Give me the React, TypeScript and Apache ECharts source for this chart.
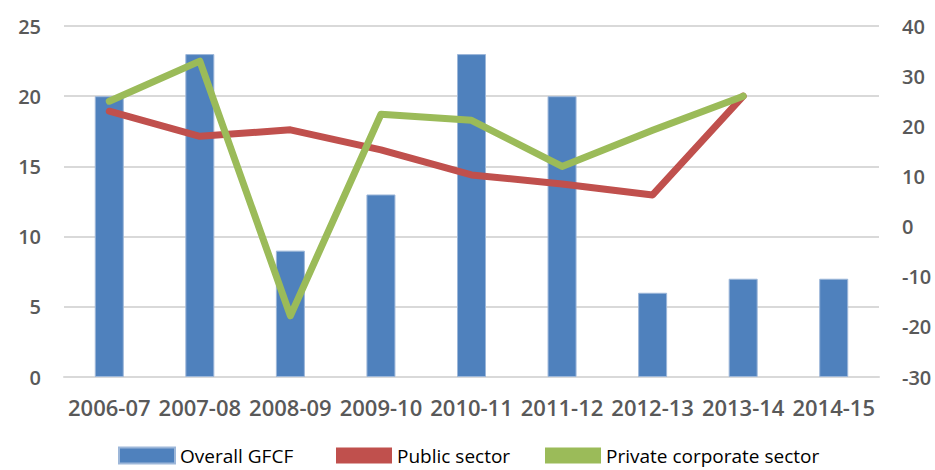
import React, { useEffect, useRef } from "react";
import * as echarts from "echarts";

const categories = ["2006-07", "2007-08", "2008-09", "2009-10", "2010-11", "2011-12", "2012-13", "2013-14", "2014-15"];
const overallGFCF = [20, 23, 9, 13, 23, 20, 6, 7, 7];
const publicSector = [23, 18, 19.3, 15.3, 10.3, 8.5, 6.3, 26, null];
const privateCorporate = [25, 33, -17.8, 22.4, 21.2, 12, 19.2, 26, null];
const leftTicks = { min: 0, max: 25, interval: 5 };
const rightTicks = { min: -30, max: 40, interval: 10 };

const FONT = "'Open Sans', 'Noto Sans', sans-serif";
const GREY = "#595959";

export default function App() {
  const ref = useRef<HTMLDivElement>(null);
  useEffect(() => {
    if (!ref.current) return;
    const chart = echarts.init(ref.current, undefined, { renderer: "svg" });
    const legendText = { fontFamily: FONT, fontSize: 19, color: "#000" };
    const mkLegend = (name: string, left: number) => ({
      data: [name],
      left,
      top: 446,
      padding: 0,
      icon: "rect",
      itemWidth: 56,
      itemHeight: 16,
      itemGap: 6,
      textStyle: legendText,
    });
    chart.setOption({
      animation: false,
      backgroundColor: "#fff",
      legend: [
        mkLegend("Overall GFCF", 118),
        mkLegend("Public sector", 336),
        mkLegend("Private corporate sector", 545),
      ],
      grid: { left: 64, right: 56, top: 26, bottom: 93, containLabel: false },
      xAxis: {
        type: "category",
        data: categories,
        axisLine: { show: true, lineStyle: { color: "#d9d9d9", width: 2 } },
        axisTick: { show: false },
        axisLabel: { fontFamily: FONT, fontSize: 22, fontWeight: 600, color: GREY, margin: 19, interval: 0 },
      },
      yAxis: [
        {
          type: "value",
          ...leftTicks,
          position: "left",
          axisLine: { show: false },
          axisTick: { show: false },
          splitLine: { show: true, lineStyle: { color: "#d9d9d9", width: 2 } },
          axisLabel: { fontFamily: FONT, fontSize: 20, fontWeight: 600, color: GREY, margin: 23 },
        },
        {
          type: "value",
          ...rightTicks,
          position: "right",
          axisLine: { show: false },
          axisTick: { show: false },
          splitLine: { show: false },
          axisLabel: { fontFamily: FONT, fontSize: 20, fontWeight: 600, color: GREY, margin: 23 },
        },
      ],
      series: [
        {
          name: "Overall GFCF",
          type: "bar",
          data: overallGFCF,
          yAxisIndex: 0,
          barWidth: 29,
          itemStyle: { color: "#4F81BD", borderColor: "#9db7d9", borderWidth: 1 },
        },
        {
          name: "Public sector",
          type: "line",
          data: publicSector,
          yAxisIndex: 1,
          showSymbol: false,
          symbol: "none",
          itemStyle: { color: "#C0504D" },
          lineStyle: { color: "#C0504D", width: 7, cap: "round", join: "round" },
        },
        {
          name: "Private corporate sector",
          type: "line",
          data: privateCorporate,
          yAxisIndex: 1,
          showSymbol: false,
          symbol: "none",
          itemStyle: { color: "#9BBB59" },
          lineStyle: { color: "#9BBB59", width: 7, cap: "round", join: "round" },
        },
      ],
    });
    return () => chart.dispose();
  }, []);
  return <div ref={ref} style={{ width: 935, height: 470, position: "absolute", left: 0, top: 0 }} />;
}
